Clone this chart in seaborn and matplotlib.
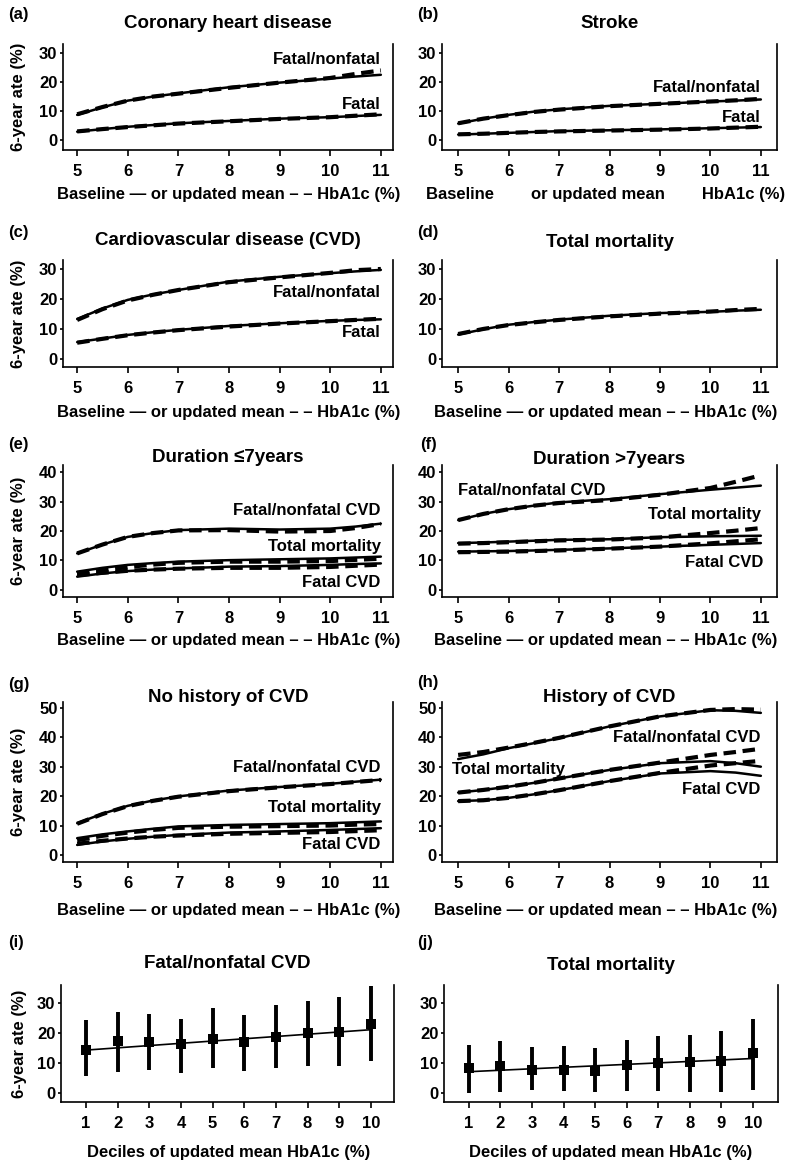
import matplotlib
matplotlib.use("Agg")
import matplotlib.pyplot as plt
import pandas as pd
import seaborn as sns

W, H = 786, 1165

# HbA1c (%) grid at which the curves were read
HBA1C = [5, 5.5, 6, 6.5, 7, 8, 9, 10, 10.5, 11]

# (a) coronary heart disease, baseline (solid) / updated mean (dashed)
CHD_FNF_BASE = [8.7, 11.3, 13.6, 15.0, 16.1, 18.2, 19.8, 21.2, 21.9, 22.5]
CHD_FNF_UPD = [8.9, 11.4, 13.6, 15.0, 16.0, 18.0, 19.8, 21.4, 22.8, 24.0]
CHD_FAT_BASE = [2.9, 3.8, 4.6, 5.2, 5.8, 6.6, 7.4, 7.9, 8.3, 8.7]
CHD_FAT_UPD = [3.0, 3.8, 4.5, 5.1, 5.7, 6.5, 7.3, 7.9, 8.4, 8.9]

# (b) stroke
STR_FNF_BASE = [5.7, 7.4, 8.7, 9.8, 10.6, 11.8, 12.5, 13.3, 13.6, 14.0]
STR_FNF_UPD = [5.8, 7.4, 8.6, 9.7, 10.5, 11.7, 12.5, 13.3, 13.7, 14.2]
STR_FAT_BASE = [1.9, 2.2, 2.5, 2.8, 3.1, 3.4, 3.7, 4.1, 4.3, 4.5]
STR_FAT_UPD = [2.0, 2.2, 2.5, 2.8, 3.0, 3.3, 3.6, 4.0, 4.3, 4.6]

# (c) CVD
CVD_FNF_BASE = [13.3, 16.8, 19.7, 21.5, 23.0, 25.8, 27.4, 28.6, 29.2, 29.7]
CVD_FNF_UPD = [13.0, 16.6, 19.5, 21.4, 23.0, 25.6, 27.2, 28.7, 29.6, 30.0]
CVD_FAT_BASE = [5.6, 6.8, 8.0, 8.9, 9.7, 11.0, 11.9, 12.7, 13.0, 13.2]
CVD_FAT_UPD = [5.4, 6.7, 7.9, 8.8, 9.6, 10.8, 11.8, 12.6, 13.0, 13.4]

# (d) total mortality
MORT_BASE = [8.1, 9.9, 11.4, 12.3, 13.1, 14.4, 15.3, 15.7, 16.1, 16.4]
MORT_UPD = [8.3, 10.0, 11.3, 12.2, 13.0, 14.2, 15.1, 15.8, 16.3, 16.7]

# (e) duration <=7 years
D1_FNF_BASE = [12.4, 15.4, 18.0, 19.3, 20.3, 20.8, 20.5, 20.8, 21.5, 22.5]
D1_FNF_UPD = [12.4, 15.4, 18.0, 19.3, 20.2, 20.3, 19.8, 20.0, 21.0, 22.4]
D1_TM_BASE = [6.2, 7.5, 8.5, 9.1, 9.6, 10.1, 10.4, 10.7, 11.0, 11.3]
D1_TM_UPD = [5.4, 6.6, 7.8, 8.6, 9.2, 9.6, 9.6, 9.8, 10.2, 10.6]
D1_FC_BASE = [4.5, 5.6, 6.4, 6.9, 7.3, 7.9, 8.1, 8.5, 8.8, 9.0]
D1_FC_UPD = [5.0, 5.8, 6.5, 6.9, 7.2, 7.5, 7.5, 7.8, 8.2, 8.6]

# (f) duration >7 years
D2_FNF_BASE = [23.7, 25.8, 27.4, 28.6, 29.7, 30.8, 32.5, 34.0, 34.7, 35.4]
D2_FNF_UPD = [23.7, 25.8, 27.4, 28.6, 29.5, 30.5, 32.3, 34.6, 36.7, 38.9]
D2_TM_BASE = [15.9, 16.1, 16.4, 16.7, 17.0, 17.2, 17.9, 18.2, 18.3, 18.4]
D2_TM_UPD = [15.7, 15.9, 16.2, 16.5, 16.8, 17.1, 17.8, 19.3, 20.1, 21.0]
D2_FC_BASE = [13.0, 13.1, 13.2, 13.4, 13.6, 14.1, 14.7, 15.3, 15.6, 15.9]
D2_FC_UPD = [12.8, 12.9, 13.0, 13.2, 13.4, 14.0, 14.7, 15.8, 16.5, 17.2]

# (g) no history of CVD
NH_FNF_BASE = [10.8, 14.0, 16.7, 18.5, 19.9, 21.9, 23.1, 24.2, 24.9, 25.6]
NH_FNF_UPD = [10.6, 13.9, 16.6, 18.4, 19.8, 21.7, 23.0, 24.1, 24.8, 25.5]
NH_TM_BASE = [5.7, 7.0, 8.0, 8.9, 9.7, 10.2, 10.5, 10.8, 11.1, 11.4]
NH_TM_UPD = [5.0, 6.5, 7.6, 8.5, 9.2, 9.6, 9.8, 10.0, 10.3, 10.5]
NH_FC_BASE = [3.4, 4.6, 5.5, 6.2, 6.8, 7.6, 8.0, 8.5, 8.8, 9.1]
NH_FC_UPD = [3.8, 4.8, 5.6, 6.2, 6.6, 7.2, 7.5, 7.8, 8.1, 8.4]

# (h) history of CVD
HI_FNF_BASE = [32.6, 34.2, 36.3, 38.0, 39.7, 43.7, 47.1, 49.2, 49.0, 48.3]
HI_FNF_UPD = [34.0, 35.0, 36.5, 38.1, 39.8, 43.7, 47.1, 49.3, 49.6, 49.4]
HI_TM_BASE = [21.2, 22.1, 23.2, 24.5, 26.0, 28.9, 31.2, 31.9, 31.2, 30.0]
HI_TM_UPD = [21.2, 22.1, 23.2, 24.5, 26.0, 28.9, 31.4, 34.0, 35.0, 36.1]
HI_FC_BASE = [18.3, 18.6, 19.4, 20.6, 22.0, 25.1, 27.7, 28.5, 28.0, 26.9]
HI_FC_UPD = [18.3, 18.6, 19.4, 20.6, 22.0, 25.1, 27.9, 30.4, 31.2, 32.0]

# (i), (j) deciles of updated mean HbA1c
DECILE = [1, 2, 3, 4, 5, 6, 7, 8, 9, 10]
DEC_CVD_MEAN = [14.3, 17.4, 16.9, 16.3, 17.9, 17.1, 18.8, 19.9, 20.3, 23.1]
DEC_CVD_LO = [5.7, 7.1, 7.6, 6.8, 8.2, 7.4, 8.5, 9.0, 9.0, 10.8]
DEC_CVD_HI = [24.4, 26.9, 26.3, 24.7, 28.3, 26.1, 29.5, 30.6, 32.0, 35.6]
DEC_MORT_MEAN = [8.2, 9.0, 7.8, 7.8, 7.4, 9.3, 9.9, 10.3, 10.8, 13.2]
DEC_MORT_LO = [0.0, 0.3, 0.9, 0.7, 0.3, 0.6, 0.6, 0.3, 0.3, 1.1]
DEC_MORT_HI = [16.0, 17.4, 15.5, 15.7, 15.0, 17.7, 19.1, 19.4, 20.8, 24.7]
FIT_X = [1, 10]
FIT_CVD = [14.3, 21.1]
FIT_MORT = [7.1, 11.5]

XLAB = "Baseline \u2014 or updated mean \u2013 \u2013 HbA1c (%)"
XLAB_B = "Baseline        or updated mean        HbA1c (%)"
XLAB_DEC = "Deciles of updated mean HbA1c (%)"
YLAB = "6-year ate (%)"

sns.set_style("ticks")
plt.rcParams["font.family"] = ["Liberation Sans", "DejaVu Sans"]
plt.rcParams["font.weight"] = "bold"
plt.rcParams["axes.labelweight"] = "bold"
plt.rcParams["axes.titleweight"] = "bold"
plt.rcParams["axes.linewidth"] = 1.2
plt.rcParams["text.color"] = "black"
plt.rcParams["axes.labelcolor"] = "black"
plt.rcParams["axes.titlecolor"] = "black"

fig = plt.figure(figsize=(W / 100, H / 100), dpi=100)

LCOL = (63, 393)
RCOL = (442, 777)


def make_axes(col, top, bottom, xlim, ylim, yticks, xticks):
    left, right = col
    ax = fig.add_axes([left / W, 1 - bottom / H, (right - left) / W, (bottom - top) / H])
    ax.set_xlim(*xlim)
    ax.set_ylim(*ylim)
    ax.set_xticks(xticks)
    ax.set_yticks(yticks)
    ax.spines["top"].set_visible(False)
    for s in ("left", "right", "bottom"):
        ax.spines[s].set_color("black")
    ax.tick_params(axis="x", length=4, width=1.2, pad=6, labelsize=12, colors="black")
    ax.tick_params(axis="y", length=2.5, width=1.2, pad=1.5, labelsize=12, colors="black")
    ax.grid(False)
    return ax


def frac(top, bottom, ypix):
    return (bottom - ypix) / (bottom - top)


def draw_curves(ax, curves):
    rows = []
    for name, (base, upd) in curves.items():
        for measure, vals in (("Baseline", base), ("Updated", upd)):
            for x, y in zip(HBA1C, vals):
                rows.append({"hba1c": x, "rate": y, "outcome": name, "measure": measure})
    df = pd.DataFrame(rows)
    sns.lineplot(data=df, x="hba1c", y="rate", units="outcome", estimator=None,
                 style="measure", size="measure",
                 sizes={"Baseline": 1.8, "Updated": 3.0},
                 dashes={"Baseline": "", "Updated": (3, 1.6)},
                 color="black", legend=False, sort=False, ax=ax)
    ax.set_xlabel("")
    ax.set_ylabel("")


def decorate(ax, col, top, bottom, label, lab_xy, title, title_y, xlab, xlab_y,
             ylab=True, xlab_x=None):
    left, right = col
    ax.set_title(title, y=frac(top, bottom, title_y), va="center", fontsize=13.5, pad=0)
    ax.set_xlabel(xlab, fontsize=12)
    xc = 0.5 if xlab_x is None else (xlab_x - left) / (right - left)
    ax.xaxis.set_label_coords(xc, frac(top, bottom, xlab_y))
    ax.xaxis.label.set_va("center")
    if ylab:
        ax.set_ylabel(YLAB, fontsize=12)
        ax.yaxis.set_label_coords((19 - left) / (right - left), 0.5)
        ax.yaxis.label.set_va("center")
    fig.text(lab_xy[0] / W, 1 - lab_xy[1] / H, label, ha="left", va="center", fontsize=12)


def put(ax, text, x, y, ha="right"):
    ax.text(x, y, text, ha=ha, va="center", fontsize=12)


XT = [5, 6, 7, 8, 9, 10, 11]
LXLIM = (4.72, 11.24)
RXLIM = (4.68, 11.32)

# row 1
ax = make_axes(LCOL, 44, 150, LXLIM, (-3.4, 33.1), [0, 10, 20, 30], XT)
draw_curves(ax, {"fnf": (CHD_FNF_BASE, CHD_FNF_UPD), "fat": (CHD_FAT_BASE, CHD_FAT_UPD)})
decorate(ax, LCOL, 44, 150, "(a)", (8, 14), "Coronary heart disease", 23, XLAB, 195, xlab_x=229)
put(ax, "Fatal/nonfatal", 11, 27.9)
put(ax, "Fatal", 11, 12.4)

ax = make_axes(RCOL, 44, 150, RXLIM, (-3.4, 33.1), [0, 10, 20, 30], XT)
draw_curves(ax, {"fnf": (STR_FNF_BASE, STR_FNF_UPD), "fat": (STR_FAT_BASE, STR_FAT_UPD)})
decorate(ax, RCOL, 44, 150, "(b)", (417, 14), "Stroke", 23, XLAB_B, 195, ylab=False, xlab_x=606)
put(ax, "Fatal/nonfatal", 11, 18.1)
put(ax, "Fatal", 11, 7.8)

# row 2
ax = make_axes(LCOL, 260, 367, LXLIM, (-2.7, 33.0), [0, 10, 20, 30], XT)
draw_curves(ax, {"fnf": (CVD_FNF_BASE, CVD_FNF_UPD), "fat": (CVD_FAT_BASE, CVD_FAT_UPD)})
decorate(ax, LCOL, 260, 367, "(c)", (8, 232), "Cardiovascular disease (CVD)", 240, XLAB, 413,
         xlab_x=229)
put(ax, "Fatal/nonfatal", 11, 22.3)
put(ax, "Fatal", 11, 8.7)

ax = make_axes(RCOL, 260, 367, RXLIM, (-2.7, 33.0), [0, 10, 20, 30], XT)
draw_curves(ax, {"tm": (MORT_BASE, MORT_UPD)})
decorate(ax, RCOL, 260, 367, "(d)", (417, 232), "Total mortality", 242, XLAB, 413,
         ylab=False, xlab_x=606)

# row 3
ax = make_axes(LCOL, 465, 597, LXLIM, (-2.4, 42.4), [0, 10, 20, 30, 40], XT)
draw_curves(ax, {"fnf": (D1_FNF_BASE, D1_FNF_UPD), "tm": (D1_TM_BASE, D1_TM_UPD),
                 "fc": (D1_FC_BASE, D1_FC_UPD)})
decorate(ax, LCOL, 465, 597, "(e)", (8, 445), "Duration \u22647years", 458, XLAB, 640,
         xlab_x=229)
put(ax, "Fatal/nonfatal CVD", 11, 26.8)
put(ax, "Total mortality", 11, 14.6)
put(ax, "Fatal CVD", 11, 2.4)

ax = make_axes(RCOL, 465, 597, RXLIM, (-2.4, 42.4), [0, 10, 20, 30, 40], XT)
draw_curves(ax, {"fnf": (D2_FNF_BASE, D2_FNF_UPD), "tm": (D2_TM_BASE, D2_TM_UPD),
                 "fc": (D2_FC_BASE, D2_FC_UPD)})
decorate(ax, RCOL, 465, 597, "(f)", (420, 445), "Duration >7years", 459, XLAB, 640,
         ylab=False, xlab_x=606)
put(ax, "Fatal/nonfatal CVD", 5.0, 33.8, ha="left")
put(ax, "Total mortality", 11, 25.5)
put(ax, "Fatal CVD", 11.05, 9.3)

# row 4
ax = make_axes(LCOL, 702, 862, LXLIM, (-2.4, 52.0), [0, 10, 20, 30, 40, 50], XT)
draw_curves(ax, {"fnf": (NH_FNF_BASE, NH_FNF_UPD), "tm": (NH_TM_BASE, NH_TM_UPD),
                 "fc": (NH_FC_BASE, NH_FC_UPD)})
decorate(ax, LCOL, 702, 862, "(g)", (8, 685), "No history of CVD", 697, XLAB, 910,
         xlab_x=229)
put(ax, "Fatal/nonfatal CVD", 11, 29.6)
put(ax, "Total mortality", 11, 16.0)
put(ax, "Fatal CVD", 11, 3.4)

ax = make_axes(RCOL, 702, 862, RXLIM, (-2.4, 52.0), [0, 10, 20, 30, 40, 50], XT)
draw_curves(ax, {"fnf": (HI_FNF_BASE, HI_FNF_UPD), "tm": (HI_TM_BASE, HI_TM_UPD),
                 "fc": (HI_FC_BASE, HI_FC_UPD)})
decorate(ax, RCOL, 702, 862, "(h)", (417, 683), "History of CVD", 697, XLAB, 910,
         ylab=False, xlab_x=606)
put(ax, "Fatal/nonfatal CVD", 11, 40.0)
put(ax, "Total mortality", 4.88, 29.1, ha="left")
put(ax, "Fatal CVD", 11, 22.3)


# row 5: deciles with error bars
def draw_deciles(ax, mean, lo, hi, fit):
    ax.vlines(DECILE, lo, hi, color="black", lw=2.8)
    sns.lineplot(x=FIT_X, y=fit, color="black", lw=1.2, ax=ax)
    sns.scatterplot(x=DECILE, y=mean, marker="s", s=45, color="black",
                    edgecolor="black", linewidth=0, ax=ax, zorder=3)


LC5 = (61, 394)
RC5 = (444, 778)
ax = make_axes(LC5, 985, 1102, (0.21, 10.73), (-3, 36), [0, 10, 20, 30], DECILE)
draw_deciles(ax, DEC_CVD_MEAN, DEC_CVD_LO, DEC_CVD_HI, FIT_CVD)
decorate(ax, LC5, 985, 1102, "(i)", (8, 943), "Fatal/nonfatal CVD", 963, XLAB_DEC, 1152,
         xlab_x=229)

ax = make_axes(RC5, 985, 1102, (0.21, 10.8), (-3, 36), [0, 10, 20, 30], DECILE)
draw_deciles(ax, DEC_MORT_MEAN, DEC_MORT_LO, DEC_MORT_HI, FIT_MORT)
decorate(ax, RC5, 985, 1102, "(j)", (417, 943), "Total mortality", 965, XLAB_DEC, 1152,
         ylab=False, xlab_x=611)

fig.savefig("out.png", dpi=100)
